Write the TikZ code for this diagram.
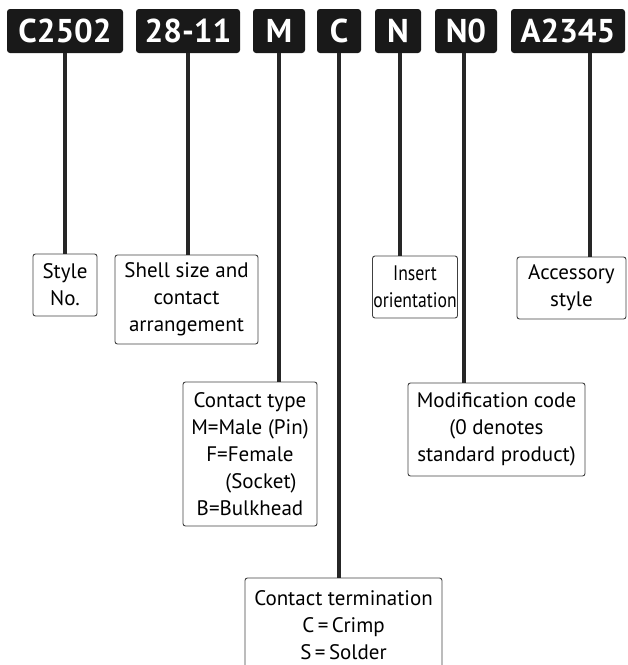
\documentclass[tikz,border=0pt]{standalone}
\usepackage{fontspec}
\setmainfont{PT Sans}
\newfontfamily\tightfont[FakeStretch=0.84]{PT Sans}
\usetikzlibrary{positioning}

\begin{document}
\begin{tikzpicture}[
  x=1pt, y=-1pt,
  code/.style={
    fill=black!90, rounded corners=3pt, text=white,
    font=\fontsize{33}{35}\selectfont\bfseries,
    inner sep=0pt, minimum height=44pt
  },
  label/.style={
    draw=black!75, line width=0.9pt, rounded corners=2.5pt,
    align=center, inner sep=0pt,
    font=\fontsize{21}{27}\selectfont
  },
  stem/.style={line width=3.4pt, black!85}
]
\useasboundingbox (0,0) rectangle (628,665);

% Top row: part number codes
\node[code, minimum width=116pt] (style)  at (65, 31)  {C2502};
\node[code, minimum width=104pt] (shell)  at (188, 31) {28-11};
\node[code, minimum width=52pt]  (ctype)  at (279, 31) {M};
\node[code, minimum width=44pt]  (cterm)  at (339, 31) {C};
\node[code, minimum width=46pt]  (insert) at (398, 31) {N};
\node[code, minimum width=62pt]  (modif)  at (466, 31) {N0};
\node[code, minimum width=114pt] (access) at (568, 31) {A2345};

% First row of descriptions
\node[label, minimum width=64pt, minimum height=62pt]  (styleL)  at (65, 285)    {Style\\No.};
\node[label, minimum width=143pt, minimum height=89pt] (shellL)  at (186.5, 299.5) {Shell size and\\contact\\arrangement};
\node[label, minimum width=85pt, minimum height=62pt,
      font=\fontsize{21}{27}\selectfont\tightfont] (insertL) at (415, 287) {Insert\\orientation};
\node[label, minimum width=109pt, minimum height=62pt] (accessL) at (571.5, 288) {Accessory\\style};

% Second row of descriptions
\node[label, minimum width=134pt, minimum height=144pt] (ctypeL) at (250, 454) {Contact type\\M=Male (Pin)\\F=Female\\\hspace*{22pt}(Socket)\\B=Bulkhead};
\node[label, minimum width=177pt, minimum height=93pt]  (modifL) at (496.5, 429.5) {Modification code\\(0 denotes\\standard product)};

% Bottom description (runs off the page)
\node[label, minimum width=197pt, minimum height=94pt]  (ctermL) at (343.5, 625) {Contact termination\\C\,=\,Crimp\\S\,=\,Solder};

% Stems from codes down to descriptions
\draw[stem] (style.south)  -- (style.south |- styleL.north);
\draw[stem] (shell.south)  -- (shell.south |- shellL.north);
\draw[stem] (ctype.south)  -- (ctype.south |- ctypeL.north);
\draw[stem] (cterm.south)  -- (cterm.south |- ctermL.north);
\draw[stem] ([xshift=2pt]insert.south) -- ([xshift=2pt]insert.south |- insertL.north);
\draw[stem] ([xshift=-2pt]modif.south) -- ([xshift=-2pt]modif.south |- modifL.north);
\draw[stem] ([xshift=22pt]access.south) -- ([xshift=22pt]access.south |- accessL.north);
\end{tikzpicture}
\end{document}
